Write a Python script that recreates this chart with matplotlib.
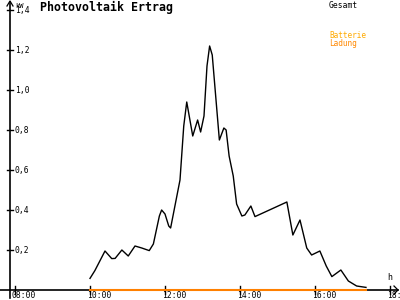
import matplotlib
matplotlib.use("Agg")
import matplotlib.pyplot as plt

# Gesamt (kW) over time of day (hours)
hours = [10.0, 10.13, 10.4, 10.58, 10.67, 10.85, 11.02, 11.2, 11.38, 11.58, 11.69,
         11.85, 11.91, 12.0, 12.1, 12.15, 12.4, 12.5, 12.58, 12.74, 12.87, 12.95, 13.04,
         13.12, 13.19, 13.26, 13.45, 13.57, 13.63, 13.71, 13.82, 13.91, 14.05, 14.13,
         14.29, 14.4, 15.25, 15.41, 15.6, 15.78, 15.91, 16.13, 16.3, 16.45, 16.69,
         16.89, 17.11, 17.36]
gesamt = [0.058, 0.097, 0.195, 0.157, 0.158, 0.20, 0.17, 0.22, 0.21, 0.197, 0.23,
          0.37, 0.40, 0.38, 0.32, 0.31, 0.55, 0.82, 0.94, 0.77, 0.85, 0.79, 0.87,
          1.12, 1.22, 1.175, 0.75, 0.81, 0.80, 0.67, 0.57, 0.43, 0.37, 0.375,
          0.42, 0.367, 0.44, 0.275, 0.35, 0.21, 0.175, 0.195, 0.12, 0.067, 0.10,
          0.045, 0.02, 0.013]
# Batterie Ladung stays at zero
ladung_hours = [10.0, 17.36]
ladung = [0.0, 0.0]

yticks = [0.2, 0.4, 0.6, 0.8, 1.0, 1.2, 1.4]
ytick_labels = ["0,2", "0,4", "0,6", "0,8", "1,0", "1,2", "1,4"]
xticks = [8, 10, 12, 14, 16, 18]
xtick_labels = ["08:00", "10:00", "12:00", "14:00", "16:00", "18:"]

mono = "DejaVu Sans Mono"

fig = plt.figure(figsize=(4, 3), dpi=100)
ax = fig.add_axes([0, 0, 1, 1])
ax.set_xlim(7.6, 18.267)
ax.set_ylim(-0.05, 1.45)
ax.axis("off")

px = 1 / 37.5   # hours per pixel
py = 1 / 200.0  # kW per pixel
x0 = 7.6 + 10 * px  # y axis position

# axes lines with arrows
ax.plot([7.6, 18.267 - 2 * px], [0, 0], color="black", lw=1.2)
ax.plot([18.267 - 6 * px, 18.267 - 2 * px, 18.267 - 6 * px], [4 * py, 0, -4 * py], color="black", lw=0.9)
ax.plot([x0, x0], [-0.04, 1.44], color="black", lw=1.2)
ax.plot([x0 - 3 * px, x0, x0 + 3 * px], [1.42, 1.445, 1.42], color="black", lw=0.9)

for v, lab in zip(yticks, ytick_labels):
    ax.plot([x0 - 3 * px, x0 + 3 * px], [v, v], color="black", lw=1)
    ax.text(x0 + 5 * px, v - 1 * py, lab, fontsize=5.8, family=mono, va="center", ha="left")
ax.text(x0 + 5 * px, 1.45 - 6 * py, "kW", fontsize=5, family=mono, va="center", ha="left")

for v, lab in zip(xticks, xtick_labels):
    ax.plot([v, v], [-4 * py, 4 * py], color="black", lw=1)
    ax.text(v - 3 * px, -0.0275, lab, fontsize=5.8, family=mono, va="center", ha="left")
ax.text(18.267 - 10 * px, 12 * py, "h", fontsize=6, family=mono, va="center", ha="center")

ax.plot(ladung_hours, ladung, color="#ff8000", lw=1.5)
ax.plot(hours, gesamt, color="black", lw=1)

ax.text(40 / 400, 1 - 7 / 300, "Photovoltaik Ertrag", transform=ax.transAxes,
        fontsize=8.4, family=mono, fontweight="bold", va="center", ha="left")
ax.text(329 / 400, 1 - 5 / 300, "Gesamt", transform=ax.transAxes,
        fontsize=5.8, family=mono, va="center", ha="left")
ax.text(329 / 400, 1 - 35 / 300, "Batterie", transform=ax.transAxes, color="#ffaa00",
        fontsize=5.6, family=mono, va="center", ha="left")
ax.text(329 / 400, 1 - 43.5 / 300, "Ladung", transform=ax.transAxes, color="#ff8800",
        fontsize=5.6, family=mono, va="center", ha="left")

fig.savefig("out.png", dpi=100)
